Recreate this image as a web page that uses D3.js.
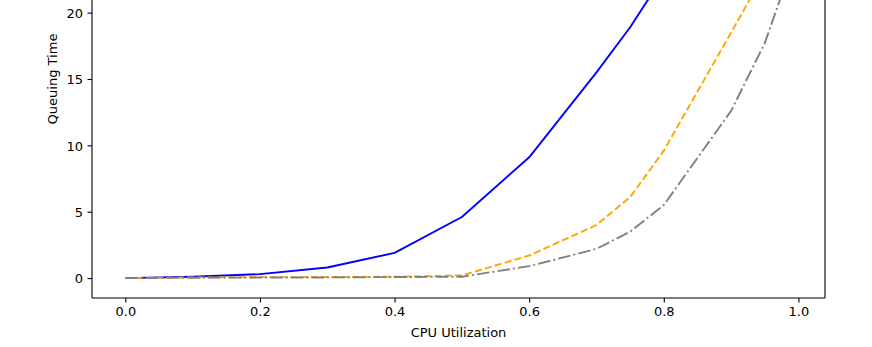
<!DOCTYPE html>
<html>
<head>
<meta charset="utf-8">
<script src="https://cdn.jsdelivr.net/npm/d3@7"></script>
<style>
  html, body { margin: 0; padding: 0; background: #fff; }
  svg { display: block; font-family: "DejaVu Sans", sans-serif; }
</style>
</head>
<body>
<script>
// Utilization levels sampled for each configuration
const utilization = [0, 0.1, 0.2, 0.3, 0.4, 0.5, 0.6, 0.7, 0.75, 0.8, 0.9, 0.95, 0.99];

// Mean queuing time per configuration
const queueSingle = [0, 0.1, 0.3, 0.8, 1.9, 4.6, 9.1, 15.5, 18.9, 22.8, 31, 36, 40];
const queueDual   = [0, 0.05, 0.07, 0.08, 0.1, 0.2, 1.7, 4.0, 6.1, 9.6, 18.5, 23, 27];
const queueQuad   = [0, 0.03, 0.04, 0.05, 0.08, 0.1, 0.9, 2.2, 3.5, 5.5, 12.6, 17.7, 23.5];

const xTicks = [0.0, 0.2, 0.4, 0.6, 0.8, 1.0];
const yTicks = [0, 5, 10, 15, 20];

const series = [
  { values: queueSingle, color: "blue",   dash: null },
  { values: queueDual,   color: "orange", dash: "7.2,3.1" },
  { values: queueQuad,   color: "gray",   dash: "12.5,3.1,2,3.1" }
];

const W = 872, H = 347;
const plotLeft = 92, plotRight = 825, plotBottom = 298;
const plotTop = -140; // plot area extends above the visible frame

const svg = d3.select("body").append("svg")
  .attr("width", W).attr("height", H);

svg.append("rect").attr("width", W).attr("height", H).attr("fill", "#fff");

const x = d3.scaleLinear().domain([-0.0495, 1.0395]).range([plotLeft, plotRight]);
const y = d3.scaleLinear().domain([-1.5, 31.5]).range([plotBottom, plotTop]);

svg.append("defs").append("clipPath").attr("id", "plot")
  .append("rect")
  .attr("x", plotLeft).attr("y", plotTop)
  .attr("width", plotRight - plotLeft).attr("height", plotBottom - plotTop);

const line = d3.line()
  .x((d, i) => x(utilization[i]))
  .y(d => y(d));

const g = svg.append("g").attr("clip-path", "url(#plot)");
series.forEach(s => {
  g.append("path")
    .datum(s.values)
    .attr("d", line)
    .attr("fill", "none")
    .attr("stroke", s.color)
    .attr("stroke-width", 1.9)
    .attr("stroke-dasharray", s.dash)
    .attr("stroke-linejoin", "round")
    .attr("stroke-linecap", "butt");
});

// Axes
const xAxis = d3.axisBottom(x).tickValues(xTicks).tickFormat(d3.format(".1f"))
  .tickSize(4.5).tickPadding(4.5);
const yAxis = d3.axisLeft(y).tickValues(yTicks).tickFormat(d3.format("d"))
  .tickSize(4.5).tickPadding(4.5);

const gx = svg.append("g").attr("transform", `translate(0,${plotBottom})`).call(xAxis);
const gy = svg.append("g").attr("transform", `translate(${plotLeft},0)`).call(yAxis);

[gx, gy].forEach(a => {
  a.select(".domain").remove();
  a.selectAll(".tick line").attr("stroke", "#000").attr("stroke-width", 1.1);
  a.selectAll(".tick text").attr("fill", "#000")
    .attr("font-size", 13).attr("font-family", "DejaVu Sans, sans-serif");
});
gy.selectAll(".tick text").attr("dy", "0.36em");

// Spines
const spine = svg.append("g").attr("stroke", "#000").attr("stroke-width", 1.1).attr("fill", "none");
spine.append("line").attr("x1", plotLeft).attr("x2", plotLeft).attr("y1", plotTop).attr("y2", plotBottom);
spine.append("line").attr("x1", plotRight).attr("x2", plotRight).attr("y1", plotTop).attr("y2", plotBottom);
spine.append("line").attr("x1", plotLeft).attr("x2", plotRight).attr("y1", plotBottom).attr("y2", plotBottom);

// Axis titles
svg.append("text")
  .attr("x", (plotLeft + plotRight) / 2).attr("y", 337)
  .attr("text-anchor", "middle").attr("font-size", 13).attr("fill", "#000")
  .text("CPU Utilization");

svg.append("text")
  .attr("transform", `translate(57,${(plotTop + plotBottom) / 2}) rotate(-90)`)
  .attr("text-anchor", "middle").attr("font-size", 13).attr("fill", "#000")
  .text("Queuing Time");
</script>
</body>
</html>
